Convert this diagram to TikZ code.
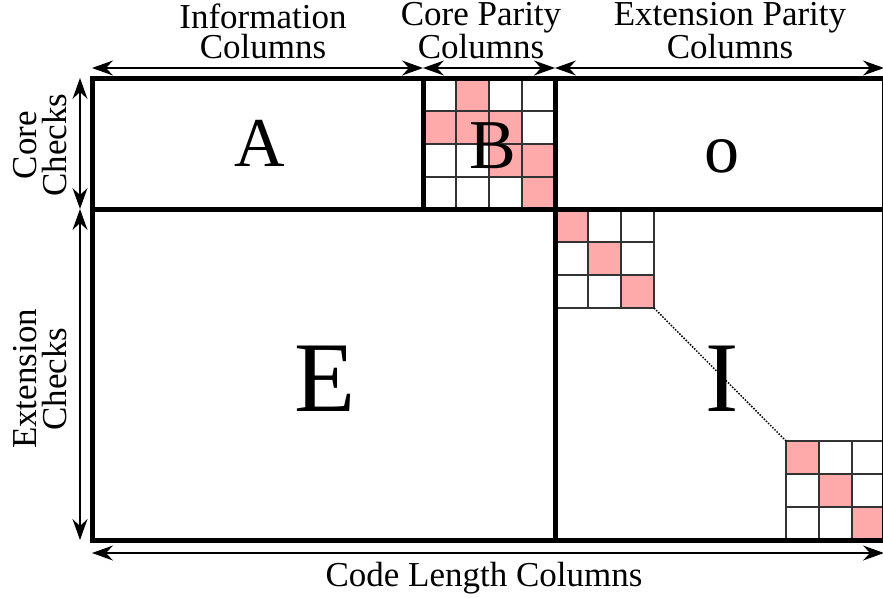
\documentclass[tikz,border=0pt]{standalone}
\usepackage{fontspec}
\setmainfont{Liberation Serif}
\usetikzlibrary{arrows.meta}
\definecolor{cellpink}{RGB}{255,170,170}
\tikzset{
  frame/.style={line width=5pt, line cap=rect},
  gridline/.style={line width=1.4pt, draw=black!80},
  pinkcell/.style={fill=cellpink},
  dimarrow/.style={line width=1.2pt,
    {Stealth[length=21pt,width=15pt,inset=7pt]}-{Stealth[length=21pt,width=15pt,inset=7pt]}},
  lbl/.style={font=\fontsize{35}{30}\selectfont, align=center, inner sep=0pt},
  blocklbl/.style={font=\fontsize{70}{70}\selectfont, inner sep=0pt, anchor=base},
  biglbl/.style={font=\fontsize{100}{100}\selectfont, inner sep=0pt, anchor=base},
}
\begin{document}
\begin{tikzpicture}[x=1pt,y=-1pt]
\useasboundingbox (0,0) rectangle (883,597);
\clip (0,0) rectangle (883,597);

% corner points of the matrix blocks
\coordinate (m-tl) at (92,78);
\coordinate (m-tb) at (423,78);
\coordinate (m-tc) at (555,78);
\coordinate (m-tr) at (884,78);
\coordinate (m-ml) at (92,209);
\coordinate (m-mb) at (423,209);
\coordinate (m-mc) at (555,209);
\coordinate (m-mr) at (884,209);
\coordinate (m-bl) at (92,540);
\coordinate (m-bc) at (555,540);
\coordinate (m-br) at (884,540);

% B block: 4x4 cells
\begin{scope}[shift={(423,78)}]
  \foreach \c/\r in {1/0, 0/1, 1/1, 2/1, 2/2, 3/2, 3/3}
    \fill[pinkcell] (\c*33,\r*33) rectangle ++(33,33);
  \foreach \k in {1,2,3} {
    \draw[gridline] (\k*33,0) -- (\k*33,131);
    \draw[gridline] (0,\k*33) -- (132,\k*33);
  }
\end{scope}

% identity block, upper-left corner cells
\begin{scope}[shift={(555,209)}]
  \foreach \k in {0,1,2}
    \fill[pinkcell] (\k*33,\k*33) rectangle ++(33,33);
  \foreach \k in {1,2,3} {
    \draw[gridline] (\k*33,0) -- (\k*33,99);
    \draw[gridline] (0,\k*33) -- (99,\k*33);
  }
  \coordinate (i-top) at (99,99);
\end{scope}

% identity block, lower-right corner cells
\begin{scope}[shift={(786,441)}]
  \foreach \k in {0,1,2}
    \fill[pinkcell] (\k*33,\k*33) rectangle ++(33,33);
  \foreach \k in {0,1,2} {
    \draw[gridline] (\k*33,0) -- (\k*33,99);
    \draw[gridline] (0,\k*33) -- (99,\k*33);
  }
  \coordinate (i-bot) at (0,0);
\end{scope}

\draw[line width=1.5pt, dash pattern=on 1.5pt off 1.5pt] (i-top) -- (i-bot);

% block outlines
\draw[frame] (m-tl) rectangle (m-br);
\draw[frame] (m-ml) -- (m-mr);
\draw[frame] (m-tc) -- (m-bc);
\draw[frame] (m-tb) -- (m-mb);

% block names
\node[blocklbl] (blkA) at (260,166) {A};
\node[blocklbl] (blkB) at (493,168) {B};
\node[blocklbl] (blk0) at (722,172) {o};
\node[biglbl] (blkE) at (325,411) {E};
\node[biglbl] (blkI) at (722,411) {I};

% column dimension arrows
\coordinate (ca0) at (92,68);
\coordinate (ca1) at (423,68);
\coordinate (ca2) at (555,68);
\coordinate (ca3) at (884,68);
\draw[dimarrow] (ca0) -- (ca1);
\draw[dimarrow] (ca1) -- (ca2);
\draw[dimarrow] (ca2) -- (ca3);

% row dimension arrows
\coordinate (ra0) at (80,78);
\coordinate (ra1) at (80,209);
\coordinate (ra2) at (80,540);
\draw[dimarrow] (ra0) -- (ra1);
\draw[dimarrow] (ra1) -- (ra2);

% code length arrow
\coordinate (la0) at (92,553);
\coordinate (la1) at (884,553);
\draw[dimarrow] (la0) -- (la1);

% dimension labels
\node[lbl] (infoCols) at (263,31) {Information\\Columns};
\node[lbl] (coreCols) at (481,31) {Core Parity\\Columns};
\node[lbl] (extCols) at (730,31) {Extension Parity\\Columns};
\node[lbl, rotate=90] (coreRows) at (40,145) {Core\\Checks};
\node[lbl, rotate=90] (extRows) at (40,379) {Extension\\Checks};
\node[lbl, anchor=base] (lenCols) at (484,586) {Code Length Columns};
\end{tikzpicture}
\end{document}
